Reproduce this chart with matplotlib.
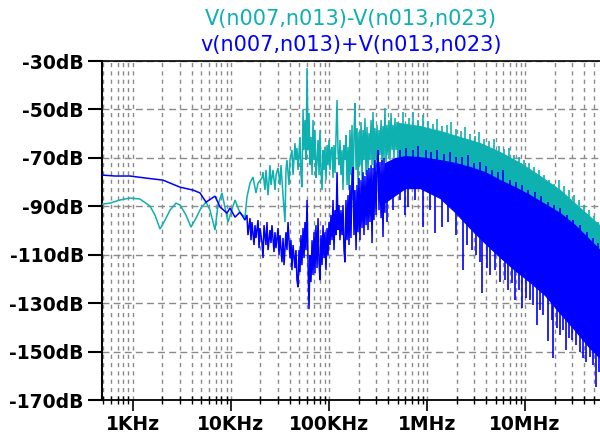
import numpy as np
import matplotlib
matplotlib.use('Agg')
import matplotlib.pyplot as plt
from matplotlib.ticker import FixedLocator, LogLocator, NullFormatter

# ---------------- data ----------------
# frequencies are given as log10(f / Hz), levels in dB
x_tick_freqs = [1e3, 1e4, 1e5, 1e6, 1e7]
x_tick_labels = ['1KHz', '10KHz', '100KHz', '1MHz', '10MHz']
y_ticks = [-30, -50, -70, -90, -110, -130, -150, -170]
y_tick_labels = ['-30dB', '-50dB', '-70dB', '-90dB', '-110dB', '-130dB', '-150dB', '-170dB']

trace_names = ['V(n007,n013)-V(n013,n023)', 'v(n007,n013)+V(n013,n023)']

# difference trace (cyan) - smooth low-frequency part
cyan_smooth = [(2.684, -89.1), (2.765, -88.7), (2.867, -87.4), (2.969, -86.6), (3.071, -87.0),
               (3.173, -89.9), (3.224, -93.6), (3.276, -99.4), (3.327, -95.7), (3.378, -91.6),
               (3.439, -88.7), (3.480, -89.5), (3.541, -93.6), (3.592, -98.6), (3.643, -94.9),
               (3.694, -90.7), (3.745, -88.3), (3.786, -91.6), (3.837, -99.8), (3.867, -89.5),
               (3.908, -84.5), (3.969, -96.5), (4.041, -87.4), (4.092, -92.8), (4.143, -94.5),
               (4.163, -86.2), (4.194, -80.4), (4.224, -77.9), (4.255, -84.5), (4.276, -80.4)]
# cyan noisy part
cyan_noise = [(4.316, -78.3), (4.327, -75.9), (4.347, -83.3), (4.357, -75.0), (4.378, -85.4),
              (4.398, -73.0), (4.408, -81.2), (4.429, -75.0), (4.449, -83.3), (4.459, -77.1),
              (4.480, -74.2), (4.500, -81.2), (4.510, -73.0), (4.531, -85.4), (4.551, -96.5),
              (4.561, -75.0), (4.571, -70.9), (4.592, -81.2), (4.602, -70.9), (4.622, -66.8),
              (4.633, -77.1), (4.653, -63.9), (4.663, -70.9), (4.673, -66.0), (4.684, -75.0),
              (4.704, -61.4), (4.714, -77.1), (4.724, -82.1), (4.735, -50.2), (4.745, -66.8),
              (4.755, -54.4), (4.765, -70.9), (4.776, -32.9), (4.786, -66.8), (4.796, -51.5),
              (4.806, -73.0), (4.816, -61.4), (4.827, -77.1), (4.837, -54.4), (4.847, -70.9),
              (4.857, -58.5), (4.867, -78.3), (4.878, -70.9), (4.888, -62.6), (4.898, -77.1),
              (4.908, -58.5), (4.918, -75.0), (4.929, -83.3), (4.939, -66.8), (4.949, -75.0),
              (4.959, -65.5), (4.969, -79.2), (4.980, -64.7), (4.990, -73.0), (5.000, -62.6),
              (5.010, -75.0), (5.020, -66.8), (5.031, -65.5), (5.041, -78.3), (5.051, -64.7),
              (5.061, -76.3), (5.071, -62.6), (5.082, -46.1), (5.092, -68.0), (5.102, -73.0),
              (5.112, -62.6), (5.122, -77.1), (5.133, -66.8), (5.143, -83.3), (5.153, -64.7),
              (5.163, -70.9), (5.173, -60.6), (5.184, -81.2), (5.194, -65.5), (5.204, -83.3),
              (5.214, -58.5), (5.224, -77.1), (5.235, -56.4), (5.245, -87.4), (5.255, -60.6),
              (5.265, -47.4), (5.276, -75.0), (5.286, -57.7), (5.296, -81.2), (5.306, -59.3),
              (5.316, -73.0), (5.327, -55.2), (5.337, -79.2), (5.347, -58.5), (5.357, -70.9),
              (5.367, -53.6), (5.378, -77.1), (5.388, -57.3), (5.398, -75.0), (5.408, -59.8),
              (5.418, -70.9), (5.429, -54.4), (5.439, -73.0), (5.449, -51.1), (5.459, -75.0),
              (5.469, -57.7), (5.480, -70.9), (5.490, -56.4), (5.500, -74.2), (5.510, -58.5),
              (5.520, -68.8), (5.531, -54.4), (5.541, -73.0), (5.551, -56.9), (5.561, -70.1),
              (5.571, -49.4), (5.582, -71.7), (5.592, -56.4), (5.602, -68.8), (5.612, -54.4),
              (5.622, -70.9), (5.633, -51.5), (5.643, -66.8), (5.653, -56.4), (5.663, -70.1),
              (5.673, -53.6), (5.684, -66.8), (5.694, -55.2), (5.704, -70.9)]
# cyan dense band (upper / lower envelope)
cyan_band_logf = [5.694, 5.929, 6.133, 6.337, 6.541, 6.745, 6.949, 7.153, 7.357, 7.561, 7.765]
cyan_band_upper = [-55.5, -56.9, -58.9, -61.4, -63.9, -67.6, -72.1, -77.5, -83.3, -90.7, -98.0]
cyan_band_lower = [-71.7, -71.7, -73.0, -75.0, -77.9, -81.2, -85.8, -90.7, -95.7, -103.1, -111.4]
# cyan spikes above the band
cyan_spikes = [(5.755, -51.1), (5.816, -53.6), (5.857, -51.1), (5.908, -54.4), (5.959, -52.3),
               (6.010, -54.8), (6.061, -56.0), (6.102, -54.0), (6.153, -56.9), (6.204, -56.4),
               (6.245, -55.2), (6.296, -58.1), (6.347, -58.9), (6.388, -57.3), (6.439, -60.2),
               (6.490, -61.0), (6.531, -59.3), (6.582, -62.2), (6.633, -63.1), (6.684, -62.2),
               (6.735, -65.1), (6.786, -66.4), (6.837, -66.0), (6.888, -68.8), (6.939, -69.7),
               (6.990, -70.9), (7.041, -72.1), (7.092, -73.8), (7.143, -75.0), (7.194, -77.1),
               (7.245, -79.2), (7.296, -80.8), (7.347, -79.2), (7.398, -81.7), (7.449, -83.3),
               (7.500, -85.4), (7.551, -87.4), (7.602, -89.5), (7.653, -91.6), (7.704, -94.0),
               (7.745, -96.5)]

# sum trace (blue) - smooth part and noisy line
blue_smooth = [(2.684, -77.1), (2.816, -77.5), (2.969, -77.5), (3.122, -78.3), (3.306, -79.2),
               (3.480, -82.1), (3.612, -83.3), (3.684, -84.5), (3.745, -88.3), (3.837, -85.8),
               (3.888, -90.3), (3.959, -92.8), (3.990, -90.7), (4.041, -94.5), (4.092, -92.4),
               (4.143, -95.7)]
blue_noise = [(4.163, -93.6), (4.173, -101.9), (4.194, -94.9), (4.204, -104.0), (4.214, -96.5),
              (4.235, -106.0), (4.245, -97.8), (4.255, -103.1), (4.276, -95.7), (4.286, -107.3),
              (4.296, -99.0), (4.316, -104.8), (4.327, -111.4), (4.337, -97.8), (4.357, -106.0),
              (4.367, -96.5), (4.378, -108.1), (4.398, -99.8), (4.408, -105.2), (4.418, -97.8),
              (4.439, -108.9), (4.449, -100.7), (4.459, -107.3), (4.480, -99.0), (4.490, -110.2),
              (4.500, -101.9), (4.520, -113.1), (4.531, -103.1), (4.541, -114.3), (4.561, -100.7),
              (4.571, -108.1), (4.582, -96.5), (4.602, -111.4), (4.612, -104.0), (4.622, -116.4),
              (4.633, -106.0), (4.653, -115.5), (4.663, -108.1), (4.673, -120.5), (4.684, -123.4),
              (4.694, -108.1), (4.704, -117.2), (4.714, -101.9), (4.724, -114.3), (4.735, -99.0),
              (4.745, -111.4), (4.755, -96.5), (4.765, -108.1), (4.776, -87.4), (4.786, -113.1),
              (4.796, -132.5), (4.806, -110.2), (4.816, -121.3), (4.827, -104.0), (4.837, -118.4),
              (4.847, -100.7), (4.857, -117.6), (4.867, -97.8), (4.878, -115.5), (4.888, -94.9),
              (4.898, -113.1), (4.908, -120.5), (4.918, -101.9), (4.929, -114.3), (4.939, -97.8),
              (4.949, -111.4), (4.959, -100.7), (4.969, -116.4), (4.980, -99.0), (4.990, -110.2),
              (5.000, -96.5), (5.010, -106.0), (5.020, -93.6), (5.031, -104.0), (5.041, -87.4),
              (5.051, -108.1), (5.061, -91.6), (5.071, -101.9), (5.082, -75.9), (5.092, -99.8),
              (5.102, -89.5), (5.112, -104.0), (5.122, -91.6), (5.133, -101.9), (5.143, -89.5),
              (5.153, -108.1), (5.163, -113.1), (5.173, -87.4), (5.184, -104.0), (5.194, -85.4),
              (5.204, -106.0), (5.214, -81.2), (5.224, -103.1), (5.235, -77.1), (5.245, -73.8),
              (5.255, -101.9), (5.265, -83.3), (5.276, -108.1), (5.286, -81.2), (5.296, -100.7),
              (5.306, -78.3), (5.316, -104.0), (5.327, -79.2), (5.337, -99.0), (5.347, -75.9),
              (5.357, -101.9), (5.367, -77.5), (5.378, -97.8), (5.388, -75.0), (5.398, -99.8),
              (5.408, -74.2), (5.418, -96.5), (5.429, -73.0), (5.439, -105.2), (5.449, -74.2),
              (5.459, -95.7), (5.469, -70.9), (5.480, -93.6), (5.490, -73.0), (5.500, -66.8),
              (5.510, -91.6), (5.520, -71.7), (5.531, -94.9), (5.541, -70.9), (5.551, -102.7),
              (5.561, -70.1), (5.571, -92.4)]
# blue dense band (upper / lower envelope)
blue_band_logf = [5.571, 5.673, 5.776, 5.929, 6.133, 6.286, 6.439, 6.592, 6.745, 6.898,
                  7.051, 7.204, 7.357, 7.510, 7.663, 7.765]
blue_band_upper = [-72.1, -70.1, -69.3, -69.7, -70.9, -72.1, -73.8, -75.9, -79.2, -82.1,
                   -85.4, -89.1, -92.8, -97.8, -104.0, -108.1]
blue_band_lower = [-88.3, -85.4, -82.5, -82.5, -86.6, -92.4, -99.0, -105.2, -111.0, -116.4,
                   -121.3, -126.7, -134.1, -141.2, -148.6, -152.7]
# blue spikes below the band
blue_dips = [(5.592, -96.5), (5.653, -91.6), (5.724, -87.4), (5.776, -93.6), (5.806, -90.3),
             (5.878, -87.4), (5.959, -98.6), (6.031, -91.6), (6.082, -101.1), (6.153, -98.6),
             (6.214, -96.5), (6.296, -101.9), (6.367, -116.4), (6.408, -106.0), (6.459, -108.1),
             (6.500, -110.2), (6.541, -113.1), (6.561, -125.9), (6.612, -115.5), (6.643, -118.4),
             (6.694, -116.4), (6.745, -121.3), (6.796, -120.5), (6.827, -124.6), (6.867, -121.7),
             (6.898, -128.8), (6.939, -124.6), (6.969, -132.1), (7.010, -127.9), (7.051, -128.8),
             (7.082, -130.8), (7.122, -139.1), (7.153, -132.9), (7.184, -135.0), (7.235, -145.7),
             (7.276, -137.0), (7.286, -152.7), (7.327, -140.3), (7.357, -143.2), (7.388, -141.2),
             (7.418, -149.4), (7.449, -144.5), (7.480, -145.3), (7.520, -147.4), (7.561, -150.2),
             (7.592, -152.7), (7.622, -154.4), (7.663, -152.3), (7.694, -155.6), (7.724, -164.7),
             (7.755, -158.5)]
# blue spikes above the band
blue_spikes = [(5.724, -66.8), (5.786, -66.0), (5.857, -66.8), (5.908, -65.1), (5.990, -66.8),
               (6.041, -67.6), (6.102, -66.8), (6.173, -68.4), (6.235, -67.6), (6.296, -69.7),
               (6.357, -69.7), (6.418, -68.8), (6.480, -72.1), (6.541, -71.7), (6.602, -73.4),
               (6.663, -75.0), (6.724, -75.9), (6.776, -75.0), (6.847, -79.2), (6.908, -80.0),
               (6.969, -81.2), (7.031, -83.3), (7.102, -84.1), (7.163, -85.8), (7.235, -88.3),
               (7.296, -89.5), (7.357, -90.7), (7.429, -93.6), (7.490, -95.7), (7.561, -97.8),
               (7.633, -100.7), (7.694, -103.1), (7.745, -105.2)]

# ---------------- styling ----------------
CYAN = '#0FB0B0'
BLUE = '#0000FF'
GRID = '#8a8a8a'

fig = plt.figure(figsize=(6.0, 4.37), dpi=100)
ax = fig.add_axes([102 / 600, 1 - 400 / 437, 498 / 600, 339 / 437])
ax.set_xscale('log')


def unzip(pairs):
    a = np.array(pairs, dtype=float)
    return a[:, 0], a[:, 1]


def draw_trace(color, line_pairs, band_logf, band_up, band_lo, up_pairs, dn_pairs=None):
    lf, db = unzip(line_pairs)
    ax.plot(10 ** lf, db, color=color, lw=1.1, zorder=3, solid_joinstyle='miter')
    ax.fill_between(10 ** np.asarray(band_logf), band_lo, band_up, color=color, lw=0.8,
                    edgecolor=color, zorder=3)
    ulf, udb = unzip(up_pairs)
    base_up = np.interp(ulf, band_logf, band_up) - 1.0
    ax.vlines(10 ** ulf, base_up, udb, color=color, lw=1.2, zorder=3)
    if dn_pairs is not None:
        dlf, ddb = unzip(dn_pairs)
        base_dn = np.interp(dlf, band_logf, band_lo) + 1.0
        ax.vlines(10 ** dlf, ddb, base_dn, color=color, lw=1.2, zorder=3)


draw_trace(CYAN, cyan_smooth + cyan_noise, cyan_band_logf, cyan_band_upper,
           cyan_band_lower, cyan_spikes)
draw_trace(BLUE, blue_smooth + blue_noise, blue_band_logf, blue_band_upper,
           blue_band_lower, blue_spikes, blue_dips)

ax.set_xlim(483, 5.82e7)
ax.set_ylim(-170, -30)

ax.xaxis.set_major_locator(FixedLocator(x_tick_freqs))
ax.set_xticklabels(x_tick_labels)
ax.xaxis.set_minor_locator(LogLocator(base=10, subs=np.arange(2, 10)))
ax.xaxis.set_minor_formatter(NullFormatter())
ax.set_yticks(y_ticks)
ax.set_yticklabels(y_tick_labels)

for lab in ax.get_xticklabels() + ax.get_yticklabels():
    lab.set_fontweight('bold')
    lab.set_fontsize(13.5)
    lab.set_family('DejaVu Sans')

ax.tick_params(axis='x', which='major', direction='out', length=8, width=1.2, pad=3)
ax.tick_params(axis='x', which='minor', direction='inout', length=6, width=1.0)
ax.tick_params(axis='y', which='major', direction='out', length=10, width=1.5, pad=3)

ax.grid(True, which='both', axis='x', color=GRID, linestyle=(0, (3, 3)), lw=1.0, zorder=1)
ax.grid(True, which='major', axis='y', color=GRID, linestyle=(0, (5, 3)), lw=1.0, zorder=1)
ax.set_axisbelow(True)

ax.spines['right'].set_visible(False)
ax.spines['top'].set_linewidth(1.2)
ax.spines['left'].set_linewidth(1.5)
ax.spines['bottom'].set_linewidth(1.3)

fig.text(351 / 600, 1 - 19 / 437, trace_names[0], ha='center', va='center',
         color=CYAN, fontsize=15, family='DejaVu Sans')
fig.text(351 / 600, 1 - 45 / 437, trace_names[1], ha='center', va='center',
         color=BLUE, fontsize=15, family='DejaVu Sans')

fig.savefig('out.png', dpi=100)
